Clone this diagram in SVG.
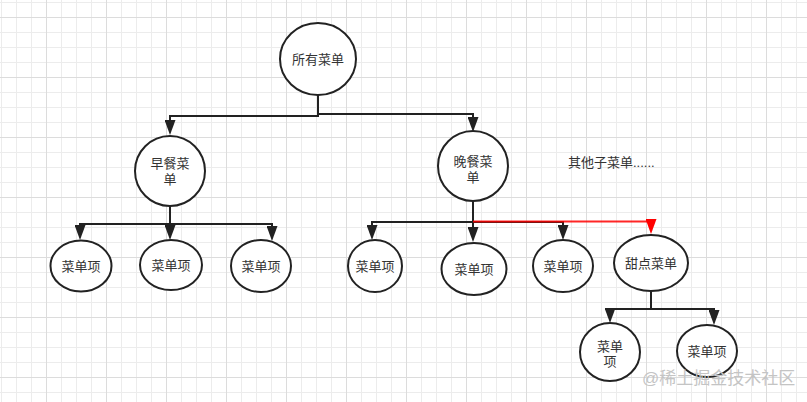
<svg xmlns="http://www.w3.org/2000/svg" width="807" height="402" viewBox="0 0 807 402">
<defs>
<pattern id="grid" patternUnits="userSpaceOnUse" x="46" y="17" width="60" height="60">
<path d="M15.5,0V60M30.5,0V60M45.5,0V60M0,15.5H60M0,30.5H60M0,45.5H60" stroke="#ececec" stroke-width="1" fill="none"/>
<path d="M0.5,0V60M0,0.5H60" stroke="#dcdcdc" stroke-width="1" fill="none"/>
</pattern>
<marker id="ah" viewBox="0 0 15 11" refX="12" refY="5.5" markerWidth="15" markerHeight="11" markerUnits="userSpaceOnUse" orient="auto">
<path d="M0,0 L15,5.5 L0,11 z" fill="#222"/>
</marker>
<marker id="ahr" viewBox="0 0 15 11" refX="12" refY="5.5" markerWidth="15" markerHeight="11" markerUnits="userSpaceOnUse" orient="auto">
<path d="M0,0 L15,5.5 L0,11 z" fill="#f00"/>
</marker>
</defs>
<style>
.node{fill:#fff;stroke:#222;stroke-width:2}
.lbl{font-family:"Liberation Sans","Noto Sans CJK SC",sans-serif;font-size:13px;fill:#333;text-anchor:middle}
.edge{fill:none;stroke:#222;stroke-width:2;marker-end:url(#ah)}
.red{fill:none;stroke:#f00;stroke-opacity:0.85;stroke-width:2.2;marker-end:url(#ahr)}
</style>
<rect width="807" height="402" fill="#fff"/>
<rect width="807" height="402" fill="url(#grid)"/>
<g id="connectors">
<path class="edge" d="M318,95 V116 H170 V132"/>
<path class="edge" d="M318,95 V114 H473 V129"/>
<path class="edge" d="M170,206 V224 H80 V237"/>
<path class="edge" d="M170,206 V237"/>
<path class="edge" d="M170,206 V224 H272 V238"/>
<path class="edge" d="M473,201 V222 H372 V237"/>
<path class="edge" d="M473,201 V239"/>
<path class="edge" d="M473,222 H563 V237"/>
<path class="red" d="M473,221.5 H651 V231"/>
<path class="edge" d="M651,290 V309 H610 V320"/>
<path class="edge" d="M651,290 V309 H714 V322"/>
</g>
<g id="n-all"><ellipse class="node" cx="318" cy="59" rx="38" ry="36"/><text class="lbl" x="318" y="63.5">所有菜单</text></g>
<g id="n-breakfast"><ellipse class="node" cx="170" cy="171" rx="35" ry="35"/><text class="lbl" x="170" y="167.5">早餐菜</text><text class="lbl" x="170" y="184">单</text></g>
<g id="n-dinner"><ellipse class="node" cx="473" cy="166" rx="35" ry="35"/><text class="lbl" x="473" y="166">晚餐菜</text><text class="lbl" x="473" y="181.5">单</text></g>
<g id="n-b1"><ellipse class="node" cx="81" cy="266" rx="30.5" ry="25.5"/><text class="lbl" x="81" y="270.5">菜单项</text></g>
<g id="n-b2"><ellipse class="node" cx="171" cy="265" rx="31" ry="25"/><text class="lbl" x="171" y="270">菜单项</text></g>
<g id="n-b3"><ellipse class="node" cx="261" cy="266" rx="30" ry="26"/><text class="lbl" x="261" y="271">菜单项</text></g>
<g id="n-d1"><ellipse class="node" cx="375" cy="266" rx="27" ry="26"/><text class="lbl" x="375" y="271">菜单项</text></g>
<g id="n-d2"><ellipse class="node" cx="474" cy="269" rx="32.5" ry="26"/><text class="lbl" x="474" y="274">菜单项</text></g>
<g id="n-d3"><ellipse class="node" cx="563" cy="266" rx="30" ry="26"/><text class="lbl" x="563" y="271">菜单项</text></g>
<g id="n-dessert"><ellipse class="node" cx="651" cy="263" rx="37" ry="28"/><text class="lbl" x="651" y="267.5">甜点菜单</text></g>
<g id="n-e1"><ellipse class="node" cx="610" cy="352" rx="30" ry="29"/><text class="lbl" x="610" y="351">菜单</text><text class="lbl" x="610" y="366">项</text></g>
<g id="n-e2"><ellipse class="node" cx="707" cy="351" rx="30" ry="26"/><text class="lbl" x="707" y="356">菜单项</text></g>
<g id="t-other"><text class="lbl" x="568" y="166.5" style="text-anchor:start">其他子菜单......</text></g>
<text x="642" y="384" style="font-family:'Liberation Sans','Noto Sans CJK SC',sans-serif;font-size:17px;fill:#c4c4c4">@稀土掘金技术社区</text>
</svg>
